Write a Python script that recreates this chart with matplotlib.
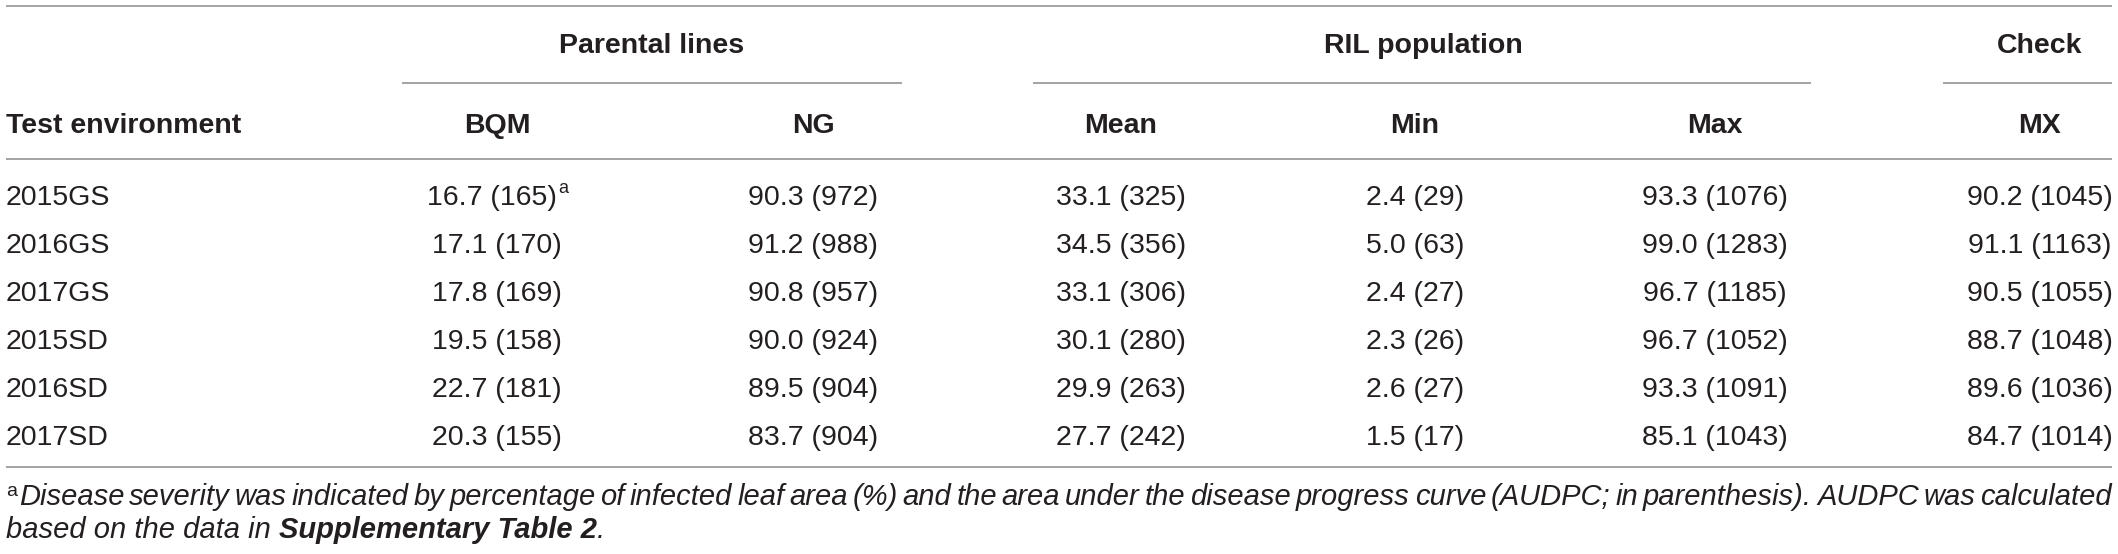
import matplotlib
matplotlib.use("Agg")
import matplotlib.pyplot as plt

# table content
environments = ["2015GS", "2016GS", "2017GS", "2015SD", "2016SD", "2017SD"]
bqm = ["16.7 (165)", "17.1 (170)", "17.8 (169)", "19.5 (158)", "22.7 (181)", "20.3 (155)"]
ng = ["90.3 (972)", "91.2 (988)", "90.8 (957)", "90.0 (924)", "89.5 (904)", "83.7 (904)"]
ril_mean = ["33.1 (325)", "34.5 (356)", "33.1 (306)", "30.1 (280)", "29.9 (263)", "27.7 (242)"]
ril_min = ["2.4 (29)", "5.0 (63)", "2.4 (27)", "2.3 (26)", "2.6 (27)", "1.5 (17)"]
ril_max = ["93.3 (1076)", "99.0 (1283)", "96.7 (1185)", "96.7 (1052)", "93.3 (1091)", "85.1 (1043)"]
check_mx = ["90.2 (1045)", "91.1 (1163)", "90.5 (1055)", "88.7 (1048)", "89.6 (1036)", "84.7 (1014)"]

group_headers = ["Parental lines", "RIL population", "Check"]
sub_headers = ["BQM", "NG", "Mean", "Min", "Max", "MX"]
first_header = "Test environment"

footnote_1 = ("Disease severity was indicated by percentage of infected leaf area (%) and the "
              "area under the disease progress curve (AUDPC; in parenthesis). AUDPC was calculated")
footnote_2a = "based on the data in "
footnote_2b = "Supplementary Table 2"

W, H = 2118, 554
TXT = "#231f20"
RULE = "#a3a3a3"
FONT = "Liberation Sans"
FS = 20.5

fig = plt.figure(figsize=(W / 100, H / 100), dpi=100)
ax = fig.add_axes([0, 0, 1, 1])
ax.set_xlim(0, W)
ax.set_ylim(H, 0)
ax.axis("off")

left, right = 6, 2112
col_x = [497, 813, 1121, 1415, 1715, 2040]
group_x = [652, 1423, 2040]
group_rules = [(402, 902), (1033, 1811), (1943, 2112)]

def rule(y, x0=left, x1=right):
    ax.plot([x0, x1], [y, y], color=RULE, lw=1.4, solid_capstyle="butt")

# header
rule(6)
for txt, x in zip(group_headers, group_x):
    ax.text(x, 53, txt, ha="center", va="baseline", fontsize=FS, fontweight="bold",
            family=FONT, color=TXT)
for x0, x1 in group_rules:
    rule(83, x0, x1)
ax.text(left, 133, first_header, ha="left", va="baseline", fontsize=FS,
        fontweight="bold", family=FONT, color=TXT)
for txt, x in zip(sub_headers, col_x):
    ax.text(x, 133, txt, ha="center", va="baseline", fontsize=FS, fontweight="bold",
            family=FONT, color=TXT)
rule(159)

# body
columns = [bqm, ng, ril_mean, ril_min, ril_max, check_mx]
r = fig.canvas.get_renderer()
for i, env in enumerate(environments):
    yb = 205 + 48 * i
    ax.text(left, yb, env, ha="left", va="baseline", fontsize=FS, family=FONT, color=TXT)
    for col, x in zip(columns, col_x):
        if i == 0 and col is bqm:
            # value with footnote mark, centred together
            t = ax.text(0, yb, col[i], ha="left", va="baseline", fontsize=FS,
                        family=FONT, color=TXT)
            s = ax.text(0, yb - 12, "a", ha="left", va="baseline", fontsize=13,
                        family=FONT, color=TXT)
            w1 = t.get_window_extent(r).width
            w2 = s.get_window_extent(r).width
            x0 = x - (w1 + w2) / 2
            t.set_x(x0)
            s.set_x(x0 + w1 + 1)
        else:
            ax.text(x, yb, col[i], ha="center", va="baseline", fontsize=FS,
                    family=FONT, color=TXT)
rule(467)

# footnote, first line justified
FN = 21
sup = ax.text(left, 496, "a", ha="left", va="baseline", fontsize=14, family=FONT, color=TXT)
start = left + sup.get_window_extent(r).width + 2
words = footnote_1.split(" ")
arts = [ax.text(0, 505, w, ha="left", va="baseline", fontsize=FN, family=FONT,
                style="italic", color=TXT) for w in words]
widths = [a.get_window_extent(r).width for a in arts]
gap = (right - start - sum(widths)) / (len(words) - 1)
x = start
for a, w in zip(arts, widths):
    a.set_x(x)
    x += w + gap

t1 = ax.text(left, 538, footnote_2a, ha="left", va="baseline", fontsize=FN, family=FONT,
             style="italic", color=TXT)
x = left + t1.get_window_extent(r).width
t2 = ax.text(x, 538, footnote_2b, ha="left", va="baseline", fontsize=FN, family=FONT,
             style="italic", fontweight="bold", color=TXT)
x += t2.get_window_extent(r).width
ax.text(x, 538, ".", ha="left", va="baseline", fontsize=FN, family=FONT,
        style="italic", color=TXT)

fig.savefig("out.png", dpi=100)
